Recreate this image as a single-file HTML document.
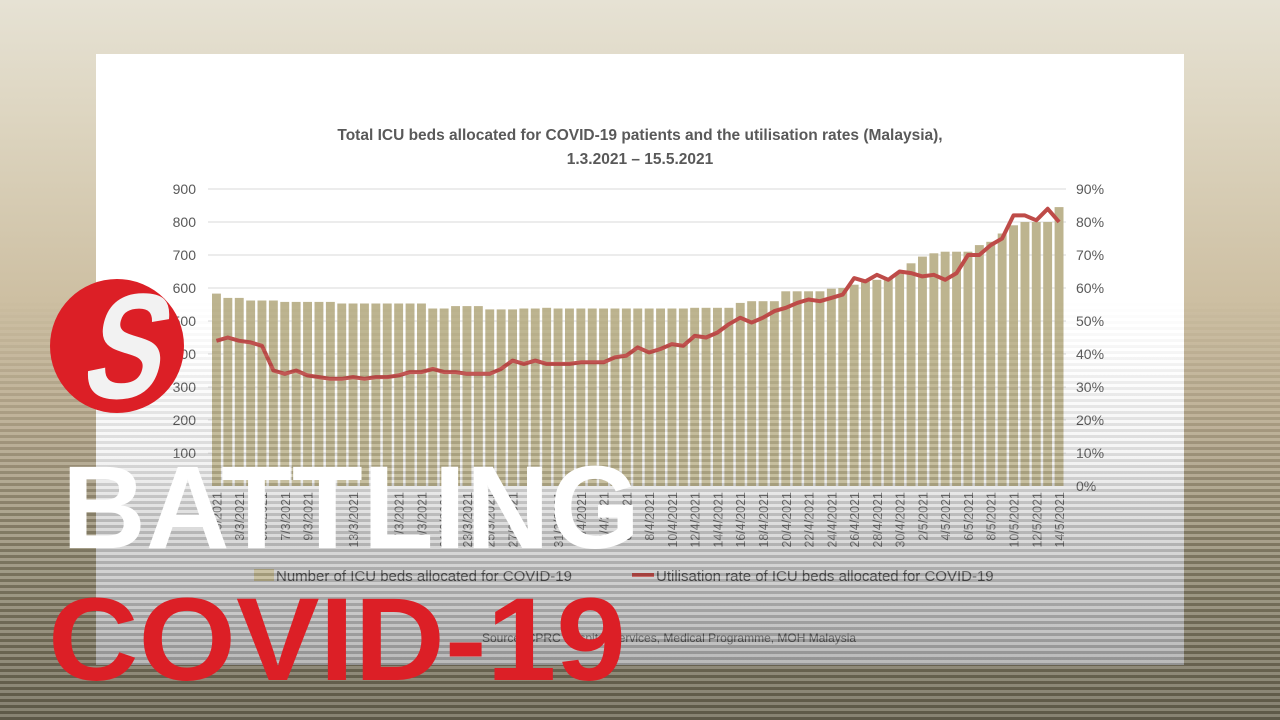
<!DOCTYPE html>
<html><head><meta charset="utf-8">
<style>
html,body{margin:0;padding:0;}
body{width:1280px;height:720px;overflow:hidden;position:relative;font-family:"Liberation Sans",sans-serif;
background:linear-gradient(180deg,#e6e2d4 0px,#ddd5c0 120px,#cdbfa2 300px,#b8aa8e 420px,#8f876e 560px,#6c6753 720px);}
#panel{position:absolute;left:96px;top:54px;width:1088px;height:611px;
background:linear-gradient(180deg,#ffffff 0px,#ffffff 300px,#f4f4f4 400px,#d6d6d6 470px,#bcbcbc 560px,#acacac 611px);}
#stripes{position:absolute;left:0;top:0;width:1280px;height:720px;
background:repeating-linear-gradient(180deg,rgba(255,255,255,0.18) 0px,rgba(255,255,255,0.18) 3px,rgba(0,0,0,0.14) 3px,rgba(0,0,0,0.14) 6px);
-webkit-mask-image:linear-gradient(180deg,transparent 0px,transparent 300px,rgba(0,0,0,0.6) 420px,#000 520px,#000 720px);
mask-image:linear-gradient(180deg,transparent 0px,transparent 300px,rgba(0,0,0,0.6) 420px,#000 520px,#000 720px);}
svg{position:absolute;left:0;top:0;}
</style></head><body>
<div id="panel"></div>
<svg id="chart" width="1280" height="720" xmlns="http://www.w3.org/2000/svg"></svg>
<div id="stripes"></div>
<svg width="1280" height="720" xmlns="http://www.w3.org/2000/svg">
<circle cx="117" cy="346" r="67" fill="#dc1f26"/>
<text transform="translate(117,398) skewX(-14)" text-anchor="middle" font-family="Liberation Sans" font-weight="bold" font-size="150" fill="#f2f2f2" textLength="78" lengthAdjust="spacingAndGlyphs">S</text>
<text x="62" y="548" font-family="Liberation Sans,sans-serif" font-weight="bold" font-size="118" fill="#ffffff" textLength="578" lengthAdjust="spacingAndGlyphs">BATTLING</text>
<text x="48" y="680" font-family="Liberation Sans,sans-serif" font-weight="bold" font-size="118" fill="#dc1f26" textLength="578" lengthAdjust="spacingAndGlyphs">COVID-19</text>
</svg>
<script>
var beds=[583,570,570,562,562,562,558,558,558,558,558,553,553,553,553,553,553,553,553,538,538,545,545,545,535,535,535,538,538,540,538,538,538,538,538,538,538,538,538,538,538,538,540,540,540,540,555,560,560,560,590,590,590,590,598,600,610,620,625,630,645,675,695,705,710,710,710,730,740,765,790,800,800,800,845,845];
var util=[44,45,44,43.5,42.5,35,34,35,33.5,33,32.5,32.5,33,32.5,33,33,33.5,34.5,34.5,35.5,34.5,34.5,34,34,34,35.5,38,37,38,37,37,37,37.5,37.5,37.5,39,39.5,42,40.5,41.5,43,42.5,45.5,45,46.5,49,51,49.5,51,53,54,55.5,56.5,56,57,58,63,62,64,62.5,65,64.5,63.5,64,62.5,64.5,70,70,73,75,82,82,80.5,84,80];
var n=util.length; while(beds.length<n)beds.push(845); beds=beds.slice(0,n);
var x0=212,x1=1066,step=(x1-x0)/n,bw=step*0.78,y0=486,yt=189,pp=(y0-yt)/900;
var s='';
s+='<text x="640" y="140" text-anchor="middle" font-size="15.5" font-weight="bold" fill="#595959">Total ICU beds allocated for COVID-19 patients and the utilisation rates (Malaysia),</text>';
s+='<text x="640" y="164" text-anchor="middle" font-size="15.5" font-weight="bold" fill="#595959">1.3.2021 – 15.5.2021</text>';
for(var i=0;i<=9;i++){var y=y0-i*100*pp;
 if(i>0)s+='<line x1="208" x2="1066" y1="'+y+'" y2="'+y+'" stroke="#d9d9d9" stroke-width="1"/>';
 if(i>0)s+='<text x="196" y="'+(y+5)+'" text-anchor="end" font-size="14" fill="#595959">'+(i*100)+'</text>';
 s+='<text x="1076" y="'+(y+5)+'" font-size="14" fill="#595959">'+(i*10)+'%</text>';}
for(var i=0;i<n;i++){var x=x0+i*step;var h=beds[i]*pp;
 s+='<rect x="'+x.toFixed(1)+'" y="'+(y0-h).toFixed(1)+'" width="'+bw.toFixed(1)+'" height="'+h.toFixed(1)+'" fill="#bdb48f"/>';}
var p='';for(var i=0;i<n;i++){var x=x0+i*step+bw/2;var y=y0-util[i]*10*pp;p+=(i?'L':'M')+x.toFixed(1)+' '+y.toFixed(1);}
s+='<path d="'+p+'" fill="none" stroke="#be4b48" stroke-width="4" stroke-linejoin="round"/>';
for(var i=0;i<n;i+=2){var d=i+1,m=3;if(d>31){d-=31;m=4;if(d>30){d-=30;m=5;}}
 var x=x0+i*step+bw/2+5;
 s+='<text transform="translate('+x.toFixed(1)+',492) rotate(-90)" text-anchor="end" font-size="12.5" fill="#666">'+d+'/'+m+'/2021</text>';}
s+='<rect x="254" y="569" width="20" height="12" fill="#bdb48f"/>';
s+='<text x="276" y="581" font-size="15" fill="#4a4a4a">Number of ICU beds allocated for COVID-19</text>';
s+='<rect x="632" y="573" width="22" height="4" fill="#be4b48"/>';
s+='<text x="656" y="581" font-size="15" fill="#4a4a4a">Utilisation rate of ICU beds allocated for COVID-19</text>';
s+='<text x="482" y="642" font-size="12" fill="#505050">Source: CPRC Hospital Services, Medical Programme, MOH Malaysia</text>';
document.getElementById('chart').innerHTML=s;
</script>
</body></html>
